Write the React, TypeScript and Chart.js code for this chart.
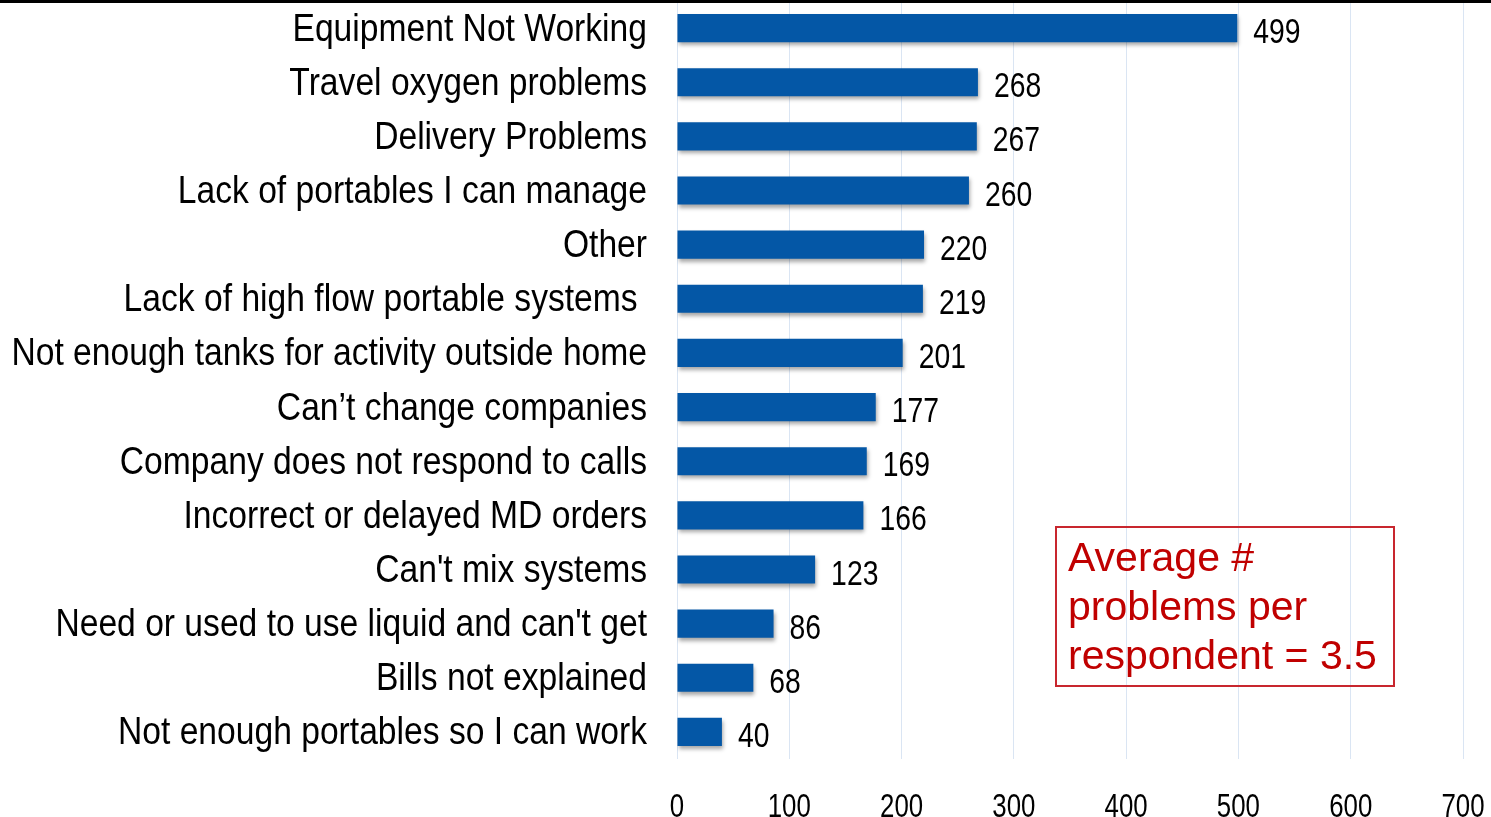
import React, { useEffect, useRef } from "react";
import { Chart, registerables } from "chart.js";

Chart.register(...registerables);

const categories = [
  "Equipment Not Working",
  "Travel oxygen problems",
  "Delivery Problems",
  "Lack of portables I can manage",
  "Other",
  "Lack of high flow portable systems ",
  "Not enough tanks for activity outside home",
  "Can’t change companies",
  "Company does not respond to calls",
  "Incorrect or delayed MD orders",
  "Can't mix systems",
  "Need or used to use liquid and can't get",
  "Bills not explained",
  "Not enough portables so I can work",
];
const values = [499, 268, 267, 260, 220, 219, 201, 177, 169, 166, 123, 86, 68, 40];
const xMin = 0;
const xMax = 700;
const xStep = 100;
const xTickLabels = ["0", "100", "200", "300", "400", "500", "600", "700"];
const noteLines = ["Average #", "problems per", "respondent = 3.5"];

const FONT = "'Liberation Sans', Arial, sans-serif";

function drawCondensed(ctx: any, text: string, x: number, y: number, size: number, sx: number, align: string) {
  ctx.save();
  ctx.translate(x, y);
  ctx.scale(sx, 1);
  ctx.font = `${size}px ${FONT}`;
  ctx.textAlign = align;
  ctx.textBaseline = "alphabetic";
  ctx.fillStyle = "#000";
  ctx.fillText(text, 0, 0);
  ctx.restore();
}

const barDecor = {
  id: "barDecor",
  beforeDatasetsDraw(chart: any) {
    const ctx = chart.ctx;
    ctx.save();
    ctx.shadowColor = "rgba(0,0,0,0.35)";
    ctx.shadowBlur = 4;
    ctx.shadowOffsetX = 1;
    ctx.shadowOffsetY = 3;
  },
  afterDatasetsDraw(chart: any) {
    const ctx = chart.ctx;
    ctx.restore();
    const meta = chart.getDatasetMeta(0);
    meta.data.forEach((bar: any, i: number) => {
      drawCondensed(ctx, String(values[i]), bar.x + 16, bar.y + 15, 35, 0.81, "left");
    });
    const yScale = chart.scales.y;
    const area = chart.chartArea;
    categories.forEach((c, i) => {
      const y = yScale.getPixelForValue(i);
      drawCondensed(ctx, c, area.left - 30, y + 12.5, 38, 0.885, "right");
    });
    const xScale = chart.scales.x;
    xTickLabels.forEach((t, i) => {
      const x = xScale.getPixelForValue(xMin + i * xStep);
      drawCondensed(ctx, t, x, 817, 34, 0.76, "center");
    });
  },
};

export default function App() {
  const ref = useRef<HTMLCanvasElement>(null);
  useEffect(() => {
    if (!ref.current) return;
    const chart = new Chart(ref.current, {
      type: "bar",
      data: {
        labels: categories,
        datasets: [
          {
            data: values,
            backgroundColor: "#0457A6",
            borderWidth: 0,
            barPercentage: 0.52,
            categoryPercentage: 1.0,
          },
        ],
      },
      options: {
        indexAxis: "y",
        animation: false,
        responsive: false,
        maintainAspectRatio: false,
        layout: { padding: { top: 1, right: 28, bottom: 0, left: 0 } },
        plugins: {
          legend: { display: false },
          tooltip: { enabled: false },
        },
        scales: {
          x: {
            min: xMin,
            max: xMax,
            ticks: { stepSize: xStep, display: false },
            grid: { color: "#DAE5F3", lineWidth: 1, drawTicks: false },
            border: { display: false },
            afterFit: (s: any) => {
              s.height = 58;
            },
          },
          y: {
            ticks: { display: false, autoSkip: false },
            grid: { display: false, drawTicks: false },
            border: { display: false },
            afterFit: (s: any) => {
              s.width = 677;
            },
          },
        },
      },
      plugins: [barDecor],
    });
    return () => chart.destroy();
  }, []);

  return (
    <div style={{ position: "absolute", left: 0, top: 0, width: 1491, height: 817, background: "#fff" }}>
      <canvas ref={ref} width={1491} height={817} style={{ position: "absolute", left: 0, top: 0 }} />
      <div style={{ position: "absolute", left: 0, top: 0, width: 1491, height: 3, background: "#000" }} />
      <div
        style={{
          position: "absolute",
          left: 1055,
          top: 526,
          width: 340,
          height: 161,
          boxSizing: "border-box",
          border: "2px solid #C8262E",
          paddingTop: 5,
          paddingLeft: 11,
          color: "#C00000",
          fontFamily: FONT,
          fontSize: 41,
          lineHeight: "49px",
          whiteSpace: "nowrap",
        }}
      >
        {noteLines.map((l, i) => (
          <div key={i}>{l}</div>
        ))}
      </div>
    </div>
  );
}
